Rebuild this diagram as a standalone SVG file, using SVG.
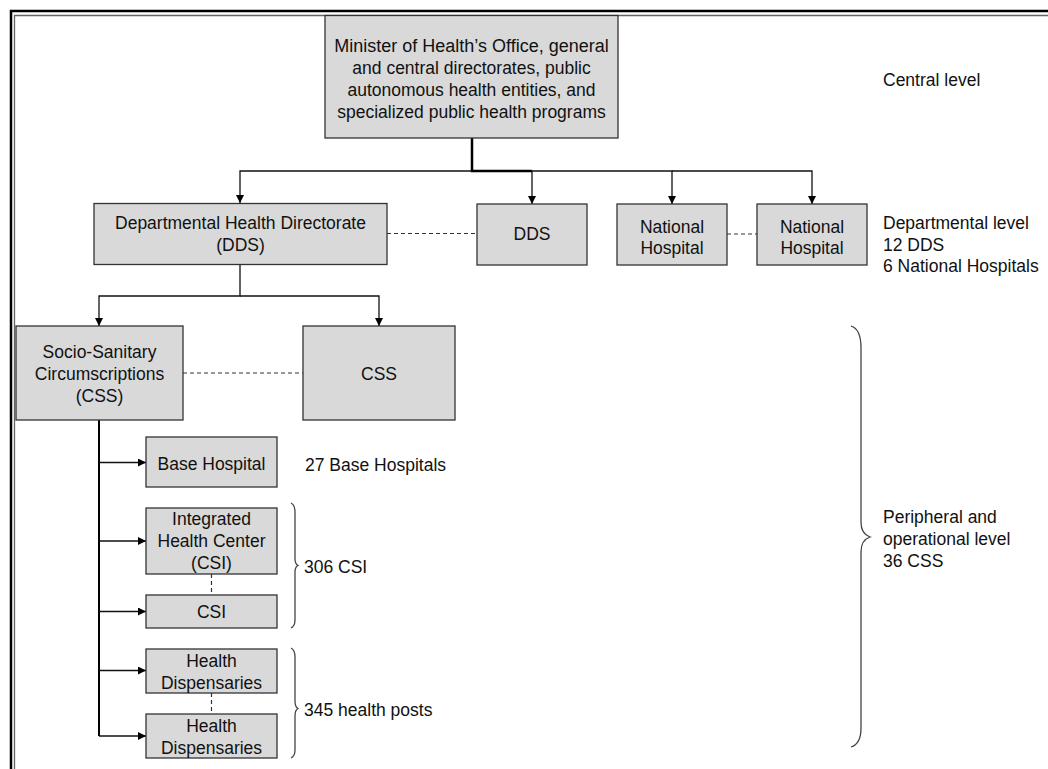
<svg xmlns="http://www.w3.org/2000/svg" width="1048" height="769" viewBox="0 0 1048 769">
<defs>
<marker id="arr" viewBox="0 0 10 10" refX="10" refY="5" markerWidth="8" markerHeight="8" markerUnits="userSpaceOnUse" orient="auto">
<path d="M0,0 L10,5 L0,10 Z" fill="#000"/>
</marker>
<style>
.box{fill:#d9d9d9;stroke:#333;stroke-width:1.3}
text{font-family:"Liberation Sans",Arial,sans-serif;font-size:17.5px;fill:#111}
.c{text-anchor:middle}
.ln{fill:none;stroke:#111;stroke-width:1.3}
.thick{fill:none;stroke:#000;stroke-width:2.5}
.dash{fill:none;stroke:#333;stroke-width:1.2;stroke-dasharray:4,3}
.brace{fill:none;stroke:#444;stroke-width:1.3}
</style>
</defs>
<rect width="1048" height="769" fill="#fff"/>
<g id="frame">
<path d="M1048,11 H11 V769" fill="none" stroke="#000" stroke-width="2.5"/>
<path d="M1048,15.5 H14.5 V769" fill="none" stroke="#666" stroke-width="1.3"/>
</g>
<g id="connectors">
<path class="thick" d="M472,138 V171 H532"/>
<path class="ln" d="M472,171 H240 V203" marker-end="url(#arr)"/>
<path class="ln" d="M532,171 V204" marker-end="url(#arr)"/>
<path class="ln" d="M532,171 H672 V204" marker-end="url(#arr)"/>
<path class="ln" d="M672,171 H812 V204" marker-end="url(#arr)"/>
<path class="dash" d="M387,233.5 H477"/>
<path class="dash" d="M727,234 H757"/>
<path class="ln" d="M240,264 V296 H99 V326" marker-end="url(#arr)"/>
<path class="ln" d="M240,296 H379 V326" marker-end="url(#arr)"/>
<path class="dash" d="M183,373 H303"/>
<path class="thick" d="M99,420 V736" style="stroke-width:2"/>
<path class="ln" d="M99,462.5 H146" marker-end="url(#arr)"/>
<path class="ln" d="M99,541 H146" marker-end="url(#arr)"/>
<path class="ln" d="M99,611.5 H146" marker-end="url(#arr)"/>
<path class="ln" d="M99,670.5 H146" marker-end="url(#arr)"/>
<path class="ln" d="M99,736 H146" marker-end="url(#arr)"/>
<path class="dash" d="M211.5,574 V595"/>
<path class="dash" d="M211.5,693 V714"/>
</g>
<g id="braces">
<path class="brace" d="M851,326 Q861,329 861,348 V522 Q861,534 870,537 Q861,540 861,552 V728 Q861,744 851,747"/>
<path class="brace" d="M291,503 Q295,505 295,512 V559 Q295,564 298,565.5 Q295,567 295,572 V620 Q295,626 291,628"/>
<path class="brace" d="M291,648 Q295,650 295,657 V701 Q295,707 298,708.5 Q295,710 295,716 V750 Q295,756 291,758"/>
</g>
<g id="n-minister">
<rect class="box" x="325" y="15.5" width="293" height="122.5"/>
<text class="c" x="471.5" y="51.5" style="font-size:18px">Minister of Health’s Office, general</text>
<text class="c" x="471.5" y="73.5">and central directorates, public</text>
<text class="c" x="471.5" y="95.5">autonomous health entities, and</text>
<text class="c" x="471.5" y="117.5">specialized public health programs</text>
</g>
<g id="l-central"><text x="883" y="86">Central level</text></g>
<g id="n-dds-main">
<rect class="box" x="94" y="203.5" width="293" height="61"/>
<text class="c" x="240.5" y="229">Departmental Health Directorate</text>
<text class="c" x="240.5" y="251">(DDS)</text>
</g>
<g id="n-dds">
<rect class="box" x="477" y="204" width="110" height="61"/>
<text class="c" x="532" y="240">DDS</text>
</g>
<g id="n-nh1">
<rect class="box" x="617" y="204" width="110" height="61"/>
<text class="c" x="672" y="233">National</text>
<text class="c" x="672" y="254">Hospital</text>
</g>
<g id="n-nh2">
<rect class="box" x="757" y="204" width="110" height="61"/>
<text class="c" x="812" y="233">National</text>
<text class="c" x="812" y="254">Hospital</text>
</g>
<g id="l-dept">
<text x="883" y="229">Departmental level</text>
<text x="883" y="250.5">12 DDS</text>
<text x="883" y="272">6 National Hospitals</text>
</g>
<g id="n-css-main">
<rect class="box" x="16" y="326" width="167" height="94"/>
<text class="c" x="99.5" y="358">Socio-Sanitary</text>
<text class="c" x="99.5" y="380">Circumscriptions</text>
<text class="c" x="99.5" y="402">(CSS)</text>
</g>
<g id="n-css">
<rect class="box" x="303" y="326" width="152" height="94"/>
<text class="c" x="379" y="380">CSS</text>
</g>
<g id="n-base">
<rect class="box" x="146" y="437" width="131" height="50"/>
<text class="c" x="211.5" y="469.5">Base Hospital</text>
</g>
<g id="l-base"><text x="305" y="470.5">27 Base Hospitals</text></g>
<g id="n-csi-main">
<rect class="box" x="146" y="508" width="131" height="66"/>
<text class="c" x="211.5" y="525">Integrated</text>
<text class="c" x="211.5" y="547">Health Center</text>
<text class="c" x="211.5" y="569">(CSI)</text>
</g>
<g id="n-csi">
<rect class="box" x="146" y="595" width="131" height="33"/>
<text class="c" x="211.5" y="618">CSI</text>
</g>
<g id="l-csi"><text x="304" y="573">306 CSI</text></g>
<g id="n-hd1">
<rect class="box" x="146" y="649" width="131" height="44"/>
<text class="c" x="211.5" y="667">Health</text>
<text class="c" x="211.5" y="689">Dispensaries</text>
</g>
<g id="n-hd2">
<rect class="box" x="146" y="714" width="131" height="44"/>
<text class="c" x="211.5" y="732">Health</text>
<text class="c" x="211.5" y="754">Dispensaries</text>
</g>
<g id="l-hp"><text x="304" y="716">345 health posts</text></g>
<g id="l-periph">
<text x="883" y="522.5">Peripheral and</text>
<text x="883" y="544.5">operational level</text>
<text x="883" y="566.5">36 CSS</text>
</g>
</svg>
